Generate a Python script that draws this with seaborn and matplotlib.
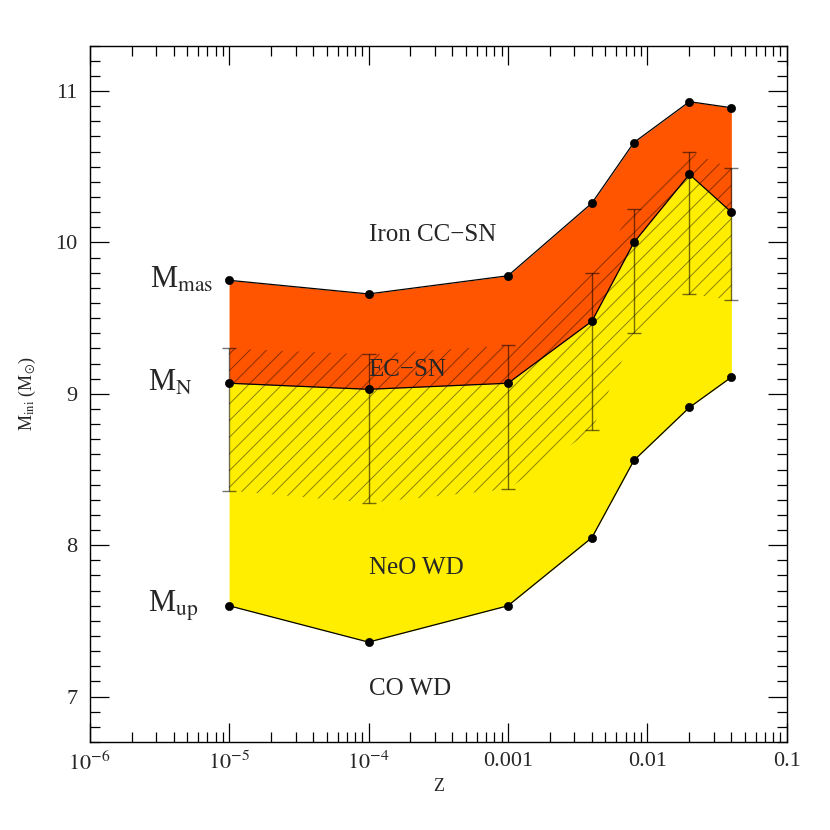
import numpy as np
import pandas as pd
import matplotlib
matplotlib.use('Agg')
import matplotlib.pyplot as plt
from matplotlib.ticker import FixedLocator, FixedFormatter, MultipleLocator, LogLocator, NullFormatter
import seaborn as sns

# metallicities and the three mass limits (Msun)
Z = [1e-5, 1e-4, 1e-3, 0.004, 0.008, 0.02, 0.04]
M_up = [7.60, 7.36, 7.60, 8.05, 8.56, 8.91, 9.11]
M_N = [9.07, 9.03, 9.07, 9.48, 10.00, 10.45, 10.20]
M_mas = [9.75, 9.66, 9.78, 10.26, 10.66, 10.93, 10.89]
# error bars on M_N
M_N_hi = [9.30, 9.26, 9.32, 9.80, 10.22, 10.60, 10.49]
M_N_lo = [8.36, 8.28, 8.37, 8.76, 9.40, 9.66, 9.62]

xtick_vals = [1e-6, 1e-5, 1e-4, 1e-3, 1e-2, 1e-1]
xtick_labels = [r'$10^{-6}$', r'$10^{-5}$', r'$10^{-4}$', '0.001', '0.01', '0.1']

df = pd.DataFrame({'Z': Z, 'up': M_up, 'N': M_N, 'mas': M_mas,
                   'hi': M_N_hi, 'lo': M_N_lo})

sns.set_style('ticks')
plt.rcParams['font.family'] = ['Liberation Serif', 'DejaVu Serif']
plt.rcParams['mathtext.fontset'] = 'stix'
plt.rcParams['hatch.linewidth'] = 0.7

fig = plt.figure(figsize=(8.3, 8.3), dpi=100)
ax = fig.add_axes([0.108, 0.106, 0.840, 0.839])

yellow = '#FFEE00'
orange = '#FF5500'

ax.fill_between(df['Z'], df['up'], df['N'], color=yellow, lw=0, zorder=1)
ax.fill_between(df['Z'], df['N'], df['mas'], color=orange, lw=0, zorder=1)
# hatched uncertainty band around M_N
ax.fill_between(df['Z'], df['lo'], df['hi'], facecolor='none', edgecolor=(0, 0, 0, 0.45),
                hatch='//', lw=0, zorder=2)

for col in ['up', 'N', 'mas']:
    sns.lineplot(data=df, x='Z', y=col, ax=ax, color='black', lw=0.9, zorder=3)
    sns.scatterplot(data=df, x='Z', y=col, ax=ax, color='black', s=35,
                    edgecolor='black', zorder=4)

yerr = [np.array(M_N) - np.array(M_N_lo), np.array(M_N_hi) - np.array(M_N)]
ax.errorbar(Z, M_N, yerr=yerr, fmt='none', ecolor='black', elinewidth=1.0,
            capsize=5, capthick=1.0, alpha=0.55, zorder=3)

ax.set_xscale('log')
ax.set_xlim(1e-6, 0.1)
ax.set_ylim(6.7, 11.3)

ax.xaxis.set_major_locator(FixedLocator(xtick_vals))
ax.xaxis.set_major_formatter(FixedFormatter(xtick_labels))
ax.xaxis.set_minor_locator(LogLocator(base=10, subs=np.arange(2, 10)))
ax.xaxis.set_minor_formatter(NullFormatter())
ax.yaxis.set_major_locator(MultipleLocator(1))
ax.yaxis.set_minor_locator(MultipleLocator(0.1))

ax.tick_params(which='both', direction='in', top=True, right=True, color='black')
ax.tick_params(which='major', length=14, width=0.9, labelsize=16)
ax.tick_params(axis='x', which='major', pad=7)
ax.tick_params(axis='y', which='major', pad=9)
ax.tick_params(which='minor', length=7, width=0.9)
for s in ax.spines.values():
    s.set_color('black')
    s.set_linewidth(1.0)

ax.set_xlabel('Z', fontsize=13, labelpad=2)
ax.set_ylabel(r'M$_{\rm ini}$ (M$_{\odot}$)', fontsize=13, labelpad=12)

# limit names on the left
ax.text(0.46e-5, M_mas[0], r'M$_{\rm mas}$', fontsize=22, ha='center', va='center')
ax.text(0.38e-5, M_N[0], r'M$_{\rm N}$', fontsize=22, ha='center', va='center')
ax.text(0.40e-5, M_up[0], r'M$_{\rm up}$', fontsize=22, ha='center', va='center')

# region names
ax.text(1.0e-4, 10.05, 'Iron CC\u2212SN', fontsize=18, ha='left', va='center', zorder=5)
ax.text(1.0e-4, 9.16, 'EC\u2212SN', fontsize=18, ha='left', va='center', zorder=5)
ax.text(1.0e-4, 7.85, 'NeO WD', fontsize=18, ha='left', va='center', zorder=5)
ax.text(1.0e-4, 7.05, 'CO WD', fontsize=18, ha='left', va='center', zorder=5)

fig.savefig('out.png', dpi=100)
